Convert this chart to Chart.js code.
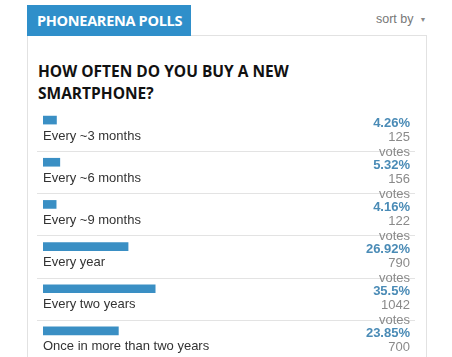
<!DOCTYPE html>
<html>
<head>
<meta charset="utf-8">
<script src="https://cdn.jsdelivr.net/npm/chart.js@4"></script>
<style>
  html, body { margin:0; padding:0; background:#fff; }
  body { width:452px; height:357px; position:relative; overflow:hidden; }
  #panel { position:absolute; left:27px; top:35px; width:400px; height:340px; border:1px solid #e2e2e2; box-sizing:border-box; }
  #tab { position:absolute; left:27px; top:5px; width:164px; height:31px; background:#2f8fca; color:#fff; white-space:nowrap;
         font-family:"Open Sans", sans-serif; font-weight:700; font-size:14.5px; line-height:31px; padding-left:10px; box-sizing:border-box; letter-spacing:-0.3px; }
  #sort { position:absolute; left:376px; top:12px; font-family:"Liberation Sans", Arial, sans-serif; font-size:12.5px; color:#777; white-space:nowrap; }
  #sort span { font-size:7px; color:#888; margin-left:6px; position:relative; top:-1px; }
  #title { position:absolute; left:38px; top:60px; font-family:"Open Sans", sans-serif; font-weight:700; font-size:15.5px; line-height:22px; color:#111; white-space:nowrap; }
  #c { position:absolute; left:0; top:0; }
</style>
</head>
<body>
<div id="panel"></div>
<div id="tab">PHONEARENA POLLS</div>
<div id="sort">sort by<span>&#9660;</span></div>
<div id="title">HOW OFTEN DO YOU BUY A NEW<br>SMARTPHONE?</div>
<canvas id="c" width="452" height="357"></canvas>
<script>
const categories = ["Every ~3 months", "Every ~6 months", "Every ~9 months", "Every year", "Every two years", "Once in more than two years"];
const percents = [4.26, 5.32, 4.16, 26.92, 35.5, 23.85];
const percentLabels = ["4.26%", "5.32%", "4.16%", "26.92%", "35.5%", "23.85%"];
const votes = [125, 156, 122, 790, 1042, 700];

const rowText = {
  id: 'rowText',
  afterDatasetsDraw(chart) {
    const ctx = chart.ctx;
    const ys = chart.scales.y;
    ctx.save();
    categories.forEach((cat, i) => {
      const y = ys.getPixelForValue(i);
      if (i < categories.length - 1) {
        ctx.strokeStyle = '#e3e3e3';
        ctx.lineWidth = 1;
        ctx.beginPath();
        ctx.moveTo(37, Math.round(y + 31) + 0.5);
        ctx.lineTo(415, Math.round(y + 31) + 0.5);
        ctx.stroke();
      }
      ctx.textBaseline = 'middle';
      ctx.textAlign = 'left';
      ctx.fillStyle = '#333';
      ctx.font = '13px "Liberation Sans", Arial, sans-serif';
      ctx.fillText(cat, 43, y + 16);
      ctx.textAlign = 'right';
      ctx.fillStyle = '#4a8bb6';
      ctx.font = 'bold 13px "Liberation Sans", Arial, sans-serif';
      ctx.fillText(percentLabels[i], 410, y + 3);
      ctx.fillStyle = '#8a8a8a';
      ctx.font = '13px "Liberation Sans", Arial, sans-serif';
      ctx.fillText(String(votes[i]), 410, y + 17);
      ctx.fillText('votes', 410, y + 32);
    });
    ctx.restore();
  }
};

new Chart(document.getElementById('c'), {
  type: 'bar',
  data: {
    labels: categories,
    datasets: [{
      data: percents,
      backgroundColor: '#3a8fc4',
      barThickness: 8,
      borderWidth: 0
    }]
  },
  options: {
    indexAxis: 'y',
    responsive: false,
    animation: false,
    layout: { padding: { left: 43, right: 93, top: 99, bottom: 5 } },
    scales: {
      x: { display: false, min: 0, max: 100 },
      y: { display: false }
    },
    plugins: { legend: { display: false }, tooltip: { enabled: false } }
  },
  plugins: [rowText]
});
</script>
</body>
</html>
